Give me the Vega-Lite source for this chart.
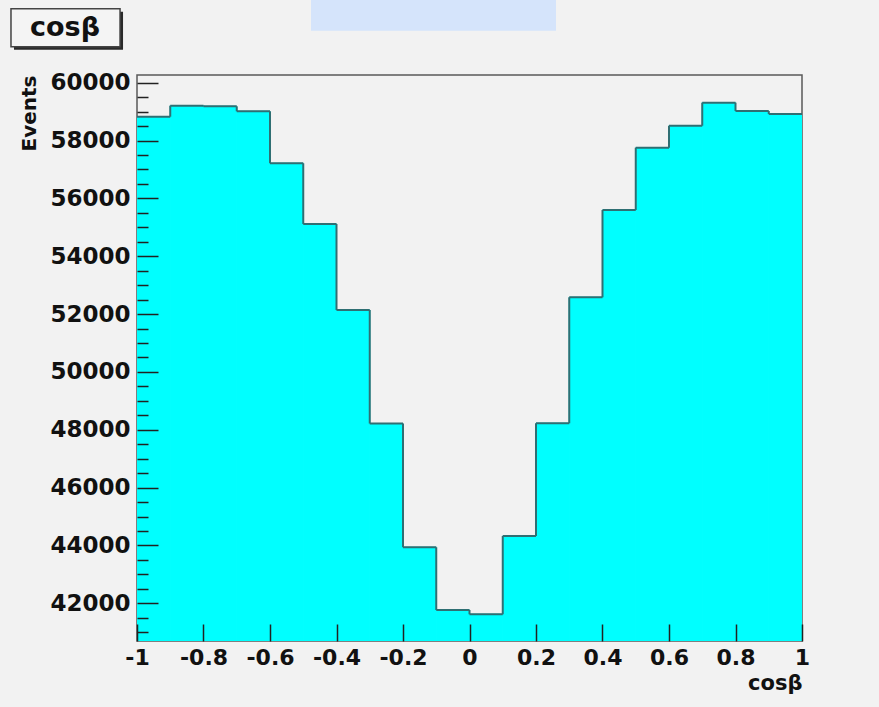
{
  "$schema": "https://vega.github.io/schema/vega-lite/v6.json",
  "width": 665,
  "height": 566,
  "autosize": {"type": "none"},
  "padding": {"left": 137, "top": 75, "right": 77, "bottom": 66},
  "background": "#f2f2f2",
  "config": {
    "view": {"fill": "#f2f2f2", "stroke": "#5a5a5a", "strokeWidth": 1.5},
    "axis": {"grid": false, "domain": false}
  },
  "resolve": {"axis": {"y": "independent"}},
  "datasets": {
    "bins": [
      {"lo": -1.0, "hi": -0.9, "count": 58824},
      {"lo": -0.9, "hi": -0.8, "count": 59205},
      {"lo": -0.8, "hi": -0.7, "count": 59183},
      {"lo": -0.7, "hi": -0.6, "count": 59011},
      {"lo": -0.6, "hi": -0.5, "count": 57213},
      {"lo": -0.5, "hi": -0.4, "count": 55115},
      {"lo": -0.4, "hi": -0.3, "count": 52141},
      {"lo": -0.3, "hi": -0.2, "count": 48215},
      {"lo": -0.2, "hi": -0.1, "count": 43935},
      {"lo": -0.1, "hi": 0.0, "count": 41768},
      {"lo": 0.0, "hi": 0.1, "count": 41620},
      {"lo": 0.1, "hi": 0.2, "count": 44327},
      {"lo": 0.2, "hi": 0.3, "count": 48225},
      {"lo": 0.3, "hi": 0.4, "count": 52580},
      {"lo": 0.4, "hi": 0.5, "count": 55599},
      {"lo": 0.5, "hi": 0.6, "count": 57753},
      {"lo": 0.6, "hi": 0.7, "count": 58513},
      {"lo": 0.7, "hi": 0.8, "count": 59309},
      {"lo": 0.8, "hi": 0.9, "count": 59022},
      {"lo": 0.9, "hi": 1.0, "count": 58918}
    ],
    "notes": [
      {"name": "shadow", "x": -1.370, "x2": -1.042, "y": 62450, "y2": 61135},
      {"name": "box", "x": -1.379, "x2": -1.051, "y": 62554, "y2": 61239},
      {"name": "blue", "x": -0.4767, "x2": 0.2602, "y": 63600, "y2": 61792},
      {"name": "title", "x": -1.2165, "y": 61896, "label": "cosβ"}
    ]
  },
  "layer": [
    {
      "data": {"name": "bins"},
      "mark": {"type": "rect", "fill": "#00ffff", "stroke": "#00ffff", "strokeWidth": 1, "clip": true},
      "encoding": {
        "x": {
          "field": "lo", "type": "quantitative",
          "scale": {"domain": [-1, 1], "nice": false, "zero": false},
          "axis": {
            "zindex": 1,
            "values": [-1, -0.95, -0.9, -0.85, -0.8, -0.75, -0.7, -0.65, -0.6, -0.55, -0.5, -0.45, -0.4, -0.35, -0.3, -0.25, -0.2, -0.15, -0.1, -0.05, 0, 0.05, 0.1, 0.15, 0.2, 0.25, 0.3, 0.35, 0.4, 0.45, 0.5, 0.55, 0.6, 0.65, 0.7, 0.75, 0.8, 0.85, 0.9, 0.95, 1],
            "labelExpr": "abs(datum.value*5 - round(datum.value*5)) < 0.001 ? replace(format(datum.value, '~g'), '\u2212', '-') : ''",
            "tickSize": {"condition": {"test": "abs(datum.value*5 - round(datum.value*5)) < 0.001", "value": -17}, "value": -8},
            "tickColor": "#222", "tickWidth": 1.5,
            "labelOverlap": false, "labelFlush": false, "labelBound": false,
            "labelFont": "DejaVu Sans", "labelFontWeight": "bold", "labelFontSize": 22, "labelColor": "#111",
            "labelPadding": 23,
            "title": "cosβ", "titleAnchor": "end", "titleAlign": "right",
            "titleFont": "DejaVu Sans", "titleFontWeight": "bold", "titleFontSize": 21, "titleColor": "#111",
            "titlePadding": 4
          }
        },
        "x2": {"field": "hi"},
        "y": {
          "field": "count", "type": "quantitative",
          "scale": {"domain": [40696, 60266], "nice": false, "zero": false},
          "axis": {
            "orient": "left",
            "zindex": 1,
            "values": [42000, 44000, 46000, 48000, 50000, 52000, 54000, 56000, 58000, 60000],
            "format": "d",
            "tickSize": -21,
            "tickColor": "#222", "tickWidth": 1.5,
            "labelOverlap": false, "labelFlush": false, "labelBound": false,
            "labelFont": "DejaVu Sans", "labelFontWeight": "bold", "labelFontSize": 23, "labelColor": "#111",
            "labelPadding": 28,
            "title": "Events", "titleAnchor": "end",
            "titleFont": "DejaVu Sans", "titleFontWeight": "bold", "titleFontSize": 20, "titleColor": "#111",
            "titlePadding": 10
          }
        },
        "y2": {"datum": 40000}
      }
    },
    {
      "data": {"name": "bins"},
      "mark": {"type": "rule", "color": "#2f6f73", "strokeWidth": 2, "clip": true},
      "encoding": {
        "x": {"field": "lo", "type": "quantitative"},
        "x2": {"field": "hi"},
        "y": {
          "field": "count", "type": "quantitative",
          "scale": {"domain": [40696, 60266], "nice": false, "zero": false},
          "axis": {
            "orient": "left",
            "zindex": 1,
            "values": [41000, 41500, 42500, 43000, 43500, 44500, 45000, 45500, 46500, 47000, 47500, 48500, 49000, 49500, 50500, 51000, 51500, 52500, 53000, 53500, 54500, 55000, 55500, 56500, 57000, 57500, 58500, 59000, 59500],
            "labels": false,
            "tickSize": -11,
            "tickColor": "#222", "tickWidth": 1.5,
            "title": null
          }
        }
      }
    },
    {
      "data": {"name": "bins"},
      "transform": [
        {"window": [{"op": "lead", "field": "count", "as": "next"}], "sort": [{"field": "lo"}]},
        {"filter": "datum.next != null"}
      ],
      "mark": {"type": "rule", "color": "#2f6f73", "strokeWidth": 2, "clip": true},
      "encoding": {
        "x": {"field": "hi", "type": "quantitative"},
        "y": {"field": "count", "type": "quantitative", "scale": {"domain": [40696, 60266], "nice": false, "zero": false}, "axis": null},
        "y2": {"field": "next"}
      }
    },
    {
      "data": {"name": "notes"},
      "transform": [{"filter": "datum.name == 'shadow'"}],
      "mark": {"type": "rect", "fill": "#2a2a2a", "clip": false},
      "encoding": {
        "x": {"field": "x", "type": "quantitative"},
        "x2": {"field": "x2"},
        "y": {"field": "y", "type": "quantitative", "scale": {"domain": [40696, 60266], "nice": false, "zero": false}, "axis": null},
        "y2": {"field": "y2"}
      }
    },
    {
      "data": {"name": "notes"},
      "transform": [{"filter": "datum.name == 'box'"}],
      "mark": {"type": "rect", "fill": "#f4f4f4", "stroke": "#444", "strokeWidth": 1.5, "clip": false},
      "encoding": {
        "x": {"field": "x", "type": "quantitative"},
        "x2": {"field": "x2"},
        "y": {"field": "y", "type": "quantitative", "scale": {"domain": [40696, 60266], "nice": false, "zero": false}, "axis": null},
        "y2": {"field": "y2"}
      }
    },
    {
      "data": {"name": "notes"},
      "transform": [{"filter": "datum.name == 'blue'"}],
      "mark": {"type": "rect", "fill": "#d5e4fb", "clip": false},
      "encoding": {
        "x": {"field": "x", "type": "quantitative"},
        "x2": {"field": "x2"},
        "y": {"field": "y", "type": "quantitative", "scale": {"domain": [40696, 60266], "nice": false, "zero": false}, "axis": null},
        "y2": {"field": "y2"}
      }
    },
    {
      "data": {"name": "notes"},
      "transform": [{"filter": "datum.name == 'title'"}],
      "mark": {"type": "text", "font": "DejaVu Sans", "fontWeight": "bold", "fontSize": 27, "color": "#111", "align": "center", "baseline": "middle", "clip": false},
      "encoding": {
        "x": {"field": "x", "type": "quantitative"},
        "y": {"field": "y", "type": "quantitative", "scale": {"domain": [40696, 60266], "nice": false, "zero": false}, "axis": null},
        "text": {"field": "label"}
      }
    }
  ]
}
